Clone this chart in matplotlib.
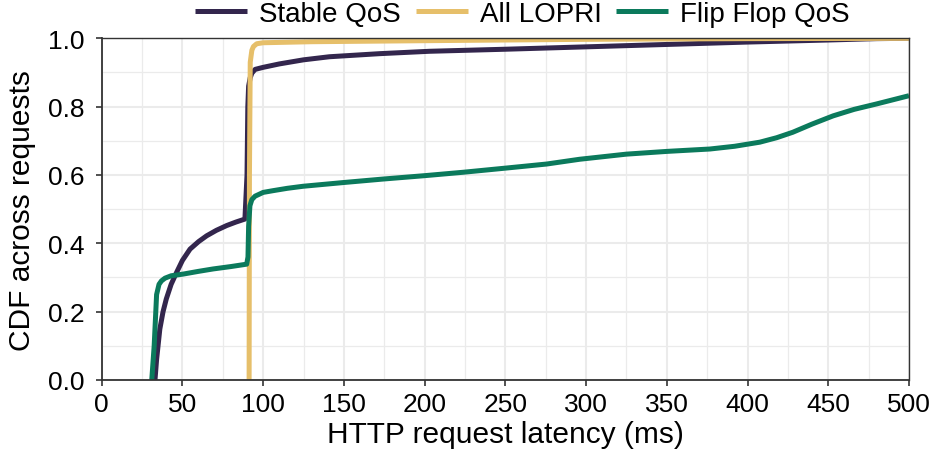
import matplotlib
matplotlib.use("Agg")
import matplotlib.pyplot as plt
from matplotlib.ticker import MultipleLocator, FormatStrFormatter

plt.rcParams["font.family"] = ["Liberation Sans", "DejaVu Sans"]

# Stable QoS
stable_x = [33, 34, 36, 38, 40, 43, 46.4, 50, 54.7, 60, 65, 71, 77.4, 83, 88.7, 90, 90.5,
            91, 92, 93, 95, 100, 110, 125, 141, 172, 203, 250, 300, 350, 400, 450, 480, 500]
stable_y = [0, 0.06, 0.149, 0.20, 0.237, 0.28, 0.315, 0.35, 0.383, 0.405, 0.422, 0.438,
            0.452, 0.462, 0.471, 0.6, 0.8, 0.86, 0.885, 0.898, 0.909, 0.915, 0.925, 0.937,
            0.946, 0.955, 0.962, 0.968, 0.975, 0.982, 0.989, 0.995, 0.999, 1.0]

# All LOPRI
lopri_x = [91.3, 91.5, 92, 93, 94, 96, 100, 130, 200, 300, 400, 500]
lopri_y = [0, 0.6, 0.93, 0.965, 0.976, 0.984, 0.987, 0.99, 0.993, 0.997, 0.999, 1.0]

# Flip Flop QoS
flip_x = [31, 32.5, 34, 35.5, 37, 39.2, 43, 50.5, 60, 69, 80, 89.8, 90.6, 91, 91.8, 93, 95,
          100, 106, 115, 124.8, 150, 174, 200, 224, 250, 275.5, 296, 325, 350, 376.7, 392,
          407.6, 418, 428, 440, 453, 466, 480, 490, 500]
flip_y = [0, 0.1, 0.25, 0.28, 0.29, 0.298, 0.305, 0.310, 0.318, 0.325, 0.332, 0.339, 0.36,
          0.45, 0.51, 0.528, 0.538, 0.549, 0.554, 0.561, 0.567, 0.578, 0.588, 0.598, 0.608,
          0.62, 0.632, 0.646, 0.661, 0.669, 0.676, 0.684, 0.696, 0.709, 0.725, 0.749, 0.773,
          0.792, 0.808, 0.82, 0.832]

series = [
    ("Stable QoS", stable_x, stable_y, "#33264d"),
    ("All LOPRI", lopri_x, lopri_y, "#e6bf6a"),
    ("Flip Flop QoS", flip_x, flip_y, "#0b7a5c"),
]

fig = plt.figure(figsize=(9.38, 4.52), dpi=100)
ax = fig.add_axes([101.7 / 938, 1 - 381 / 452, 807.3 / 938, 341.7 / 452])

for label, xs, ys, color in series:
    ax.plot(xs, ys, color=color, lw=3.6, label=label,
            solid_joinstyle="round", solid_capstyle="butt")

ax.set_xlim(0, 500)
ax.set_ylim(0, 1.0)
ax.xaxis.set_major_locator(MultipleLocator(50))
ax.xaxis.set_minor_locator(MultipleLocator(25))
ax.yaxis.set_major_locator(MultipleLocator(0.2))
ax.yaxis.set_minor_locator(MultipleLocator(0.1))
ax.yaxis.set_major_formatter(FormatStrFormatter("%.1f"))

ax.grid(which="major", color="#ebebeb", lw=1.5)
ax.grid(which="minor", color="#ebebeb", lw=0.9)
ax.set_axisbelow(True)

for side in ["top", "right"]:
    ax.spines[side].set_color("#333333")
    ax.spines[side].set_linewidth(1.0)
for side in ["left", "bottom"]:
    ax.spines[side].set_color("#333333")
    ax.spines[side].set_linewidth(1.3)

ax.tick_params(which="major", direction="out", length=4.5, width=1.2, color="#333333",
               labelsize=19, labelcolor="black")
ax.tick_params(axis="x", pad=4.5)
ax.tick_params(axis="y", pad=8)
ax.tick_params(which="minor", length=0)

ax.set_xlabel("HTTP request latency (ms)", fontsize=21.5, va="baseline")
ax.xaxis.set_label_coords(0.5, (381 - 443) / 341.7)
ax.set_ylabel("CDF across requests", fontsize=21.5, va="center")
ax.yaxis.set_label_coords((22 - 101.7) / 807.3, 0.5)

ax.legend(loc="center", bbox_to_anchor=(522.5 / 938, 1 - 15 / 452),
          bbox_transform=fig.transFigure, ncol=3, frameon=False,
          fontsize=20, handlelength=1.87, handletextpad=0.43, columnspacing=0.54,
          borderpad=0, borderaxespad=0)

fig.savefig("out.png", dpi=100)
